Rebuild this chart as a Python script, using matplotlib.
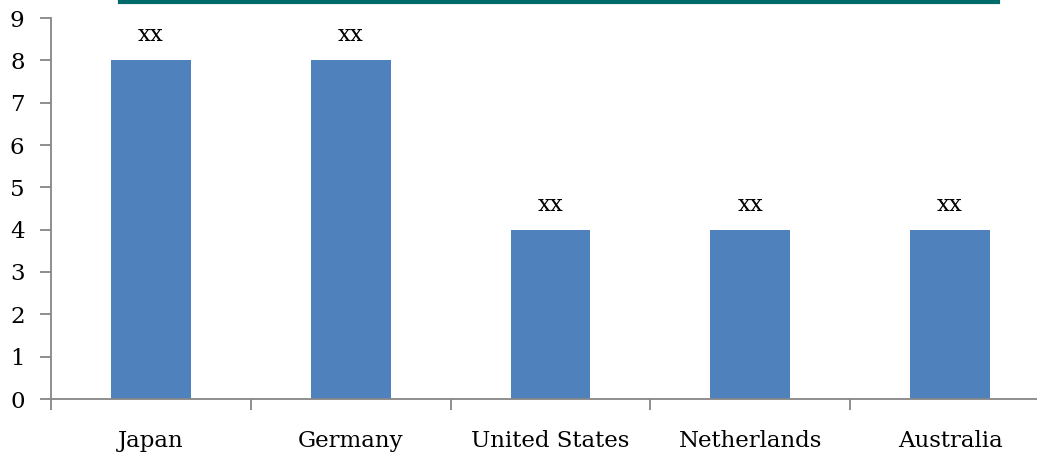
import numpy as np
import matplotlib.pyplot as plt
from matplotlib.lines import Line2D

countries = ["Japan", "Germany", "United States", "Netherlands", "Australia"]
values = [8, 8, 4, 4, 4]
bar_labels = ["xx", "xx", "xx", "xx", "xx"]

plt.rcParams['font.family'] = ['DejaVu Serif']

W, H = 1037, 454
fig = plt.figure(figsize=(W / 100, H / 100), dpi=100)
# axis runs past the right edge of the picture, like the source
ax = fig.add_axes([51 / W, 1 - 399 / H, 999 / W, 381 / H])

x = np.arange(len(countries))
bars = ax.bar(x, values, width=0.4, color="#4f81bd", zorder=2)

for b, lab in zip(bars, bar_labels):
    ax.annotate(lab, (b.get_x() + b.get_width() / 2, b.get_height()),
                xytext=(0, 18), textcoords="offset points",
                ha="center", va="center", fontsize=16.5)

ax.set_xlim(-0.5, len(countries) - 0.5)
ax.set_ylim(0, 9)
ax.set_yticks(range(10))

# ticks at category boundaries, labels in the middle
ax.set_xticks(np.arange(len(countries) + 1) - 0.5)
ax.set_xticklabels([])
ax.set_xticks(x, minor=True)
ax.set_xticklabels(countries, minor=True)
ax.tick_params(axis="x", which="minor", length=0, pad=22, labelsize=16.5)
ax.tick_params(axis="x", which="major", length=8, color="#868686", width=1.3)
ax.tick_params(axis="y", length=8, color="#868686", width=1.3, labelsize=16.5, pad=11)

for s in ["top", "right"]:
    ax.spines[s].set_visible(False)
for s in ["left", "bottom"]:
    ax.spines[s].set_color("#868686")
    ax.spines[s].set_linewidth(1.3)

# underline of the cropped heading at the top
fig.add_artist(Line2D([120 / W, 998 / W], [1 - 1.5 / H, 1 - 1.5 / H],
                      color="#006a6a", linewidth=3))

fig.savefig("out.png", dpi=100)
